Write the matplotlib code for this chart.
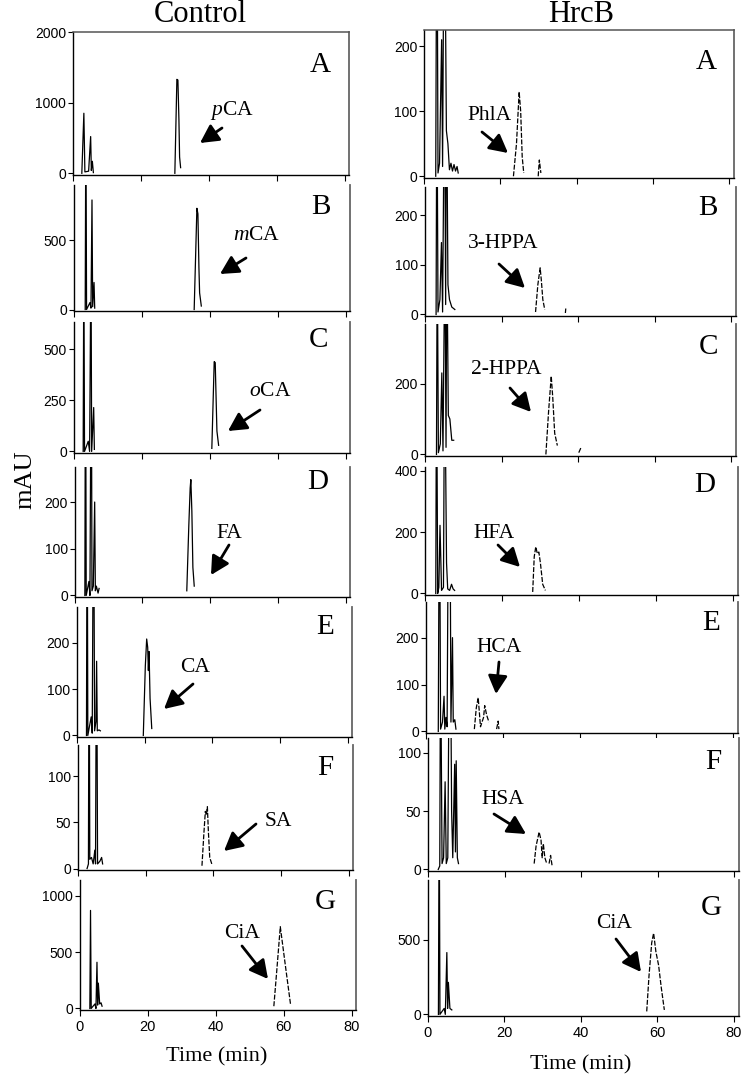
import matplotlib
matplotlib.use("Agg")
import matplotlib.pyplot as plt
from matplotlib.patches import FancyArrowPatch

plt.rcParams["font.family"] = ["Liberation Sans", "DejaVu Sans"]
plt.rcParams["mathtext.fontset"] = "custom"
plt.rcParams["mathtext.rm"] = "Liberation Serif"
plt.rcParams["mathtext.it"] = "Liberation Serif:italic"

SERIF = ["Liberation Serif", "DejaVu Serif"]
PANELS = ["A", "B", "C", "D", "E", "F", "G"]

# ---- Control traces (time min, mAU) ----
ctrl_a_early = [(2.6, 0), (3.2, 850), (3.5, 20), (4.6, 30), (5.2, 520), (5.4, 40), (5.7, 170), (6.0, 10)]
ctrl_a_peak = [(30.0, 0), (30.6, 1330), (30.9, 1320), (31.2, 760), (31.4, 230), (31.7, 80)]
ctrl_b_early = [(3.3, 0), (3.5, 1500), (3.7, 0), (4.7, 50), (5.0, 10), (5.3, 790), (5.5, 20), (5.9, 195), (6.1, 10)]
ctrl_b_peak = [(35.4, 0), (36.2, 730), (36.5, 690), (36.8, 300), (37.0, 120), (37.5, 25)]
ctrl_c_early = [(2.7, 0), (2.9, 1000), (3.1, 0), (4.2, 50), (4.6, 0), (5.0, 1000), (5.2, 0), (5.8, 215), (6.0, 10)]
ctrl_c_peak = [(40.6, 15), (41.3, 440), (41.6, 435), (41.8, 300), (42.1, 100), (42.6, 30)]
ctrl_d_early = [(3.0, 0), (3.2, 600), (3.4, 0), (4.2, 30), (4.5, 0), (4.9, 600), (5.1, 10), (5.5, 20),
                (5.9, 200), (6.1, 10), (6.4, 20), (6.9, 5), (7.2, 15)]
ctrl_d_peak = [(33.1, 10), (33.7, 150), (34.1, 230), (34.3, 248), (34.6, 180), (34.9, 60), (35.3, 20)]
ctrl_e_early = [(2.8, 0), (3.0, 600), (3.2, 0), (4.2, 40), (4.5, 5), (4.9, 600), (5.2, 10), (5.6, 30),
                (5.8, 160), (6.0, 10), (6.5, 12), (6.9, 10)]
ctrl_e_peak = [(19.6, 0), (20.2, 150), (20.6, 208), (20.9, 190), (21.1, 140), (21.3, 181), (21.6, 80), (22.1, 15)]
ctrl_f_early = [(2.6, 0), (3.0, 5), (3.2, 300), (3.4, 10), (3.9, 12), (4.4, 5), (4.9, 20), (5.1, 5),
                (5.4, 300), (5.7, 5), (6.4, 8), (6.9, 12), (7.2, 5)]
ctrl_f_peak = [(36.6, 3), (37.2, 40), (37.6, 62), (37.9, 58), (38.2, 67), (38.5, 40), (38.9, 12), (39.5, 5)]
ctrl_g_early = [(2.9, 0), (3.1, 870), (3.3, 0), (4.4, 40), (4.7, 0), (5.0, 410), (5.2, 30), (5.4, 225),
                (5.8, 40), (6.2, 50), (6.5, 20)]
ctrl_g_peak = [(57.1, 20), (58.0, 350), (59.0, 725), (60.5, 380), (62.0, 40)]

# ---- HrcB traces ----
hrcb_a_early = [(3.0, 0), (3.3, 500), (3.6, 5), (4.0, 20), (4.55, 210), (4.8, 15), (5.25, 500), (5.8, 70),
                (6.2, 50), (6.6, 10), (7.0, 20), (7.4, 8), (7.8, 18), (8.2, 8), (8.6, 15), (8.9, 5)]
hrcb_a_peak = [(23.4, 0), (24.2, 50), (24.9, 130), (25.3, 100), (25.7, 30), (26.1, 5)]
hrcb_a_minor = [(29.9, 0), (30.2, 25), (30.6, 5)]
hrcb_b_early = [(2.9, 0), (3.1, 500), (3.4, 5), (3.9, 30), (4.3, 145), (4.6, 5), (5.1, 500), (5.4, 20),
                (5.6, 500), (6.0, 60), (6.4, 30), (7.0, 15), (7.8, 10)]
hrcb_b_peak = [(28.9, 5), (29.5, 60), (30.1, 94), (30.4, 70), (30.8, 30), (31.3, 10)]
hrcb_b_minor = [(36.7, 3), (36.8, 12)]
hrcb_c_early = [(3.0, 0), (3.2, 600), (3.5, 5), (4.0, 30), (4.4, 230), (4.7, 10), (5.2, 600), (5.5, 20),
                (5.7, 600), (6.1, 110), (6.5, 100), (7.0, 40), (7.5, 40)]
hrcb_c_peak = [(31.6, 0), (32.3, 120), (33.0, 221), (33.4, 160), (33.9, 60), (34.6, 25)]
hrcb_c_minor = [(40.2, 5), (40.8, 20)]
hrcb_d_early = [(2.8, 0), (3.0, 800), (3.3, 0), (3.6, 20), (3.9, 222), (4.3, 10), (4.8, 20), (5.1, 800),
                (5.6, 100), (5.9, 15), (6.4, 10), (6.9, 30), (7.3, 15), (7.7, 10)]
hrcb_d_peak = [(28.0, 5), (28.4, 120), (28.8, 152), (29.2, 130), (29.6, 135), (30.0, 100), (30.6, 30), (31.3, 10)]
hrcb_d_minor = []
hrcb_e_early = [(3.2, 0), (3.5, 600), (3.8, 5), (4.3, 20), (4.7, 75), (4.9, 5), (5.2, 30), (5.5, 10),
                (5.9, 600), (6.2, 600), (6.5, 20), (6.9, 200), (7.1, 20), (7.5, 25), (7.8, 5)]
hrcb_e_peak = [(12.6, 5), (13.1, 50), (13.6, 72), (14.2, 10), (15.0, 30), (15.3, 55), (15.8, 35), (16.4, 20)]
hrcb_e_minor = [(18.4, 5), (18.8, 22), (19.0, 5)]
hrcb_f_early = [(2.6, 0), (3.0, 3), (3.2, 200), (3.6, 5), (4.0, 10), (4.4, 75), (4.7, 5), (5.1, 10),
                (5.5, 200), (5.8, 200), (6.1, 50), (6.4, 10), (6.9, 90), (7.1, 15), (7.3, 93), (7.6, 10), (7.9, 5)]
hrcb_f_peak = [(27.7, 5), (28.2, 20), (29.0, 32), (29.5, 25), (29.8, 10), (30.1, 22), (30.5, 10), (31.0, 5)]
hrcb_f_minor = [(31.6, 5), (32.0, 12), (32.4, 3)]
hrcb_g_early = [(2.8, 0), (3.0, 1500), (3.2, 0), (4.3, 40), (4.6, 0), (5.0, 415), (5.2, 40), (5.4, 215),
                (5.8, 40), (6.3, 30)]
hrcb_g_peak = [(57.2, 20), (57.8, 260), (58.5, 480), (59.0, 545), (59.6, 420), (60.3, 330), (61.0, 180), (61.8, 30)]
hrcb_g_minor = []

CTRL_YMAX = [2000, 898, 634, 275, 277, 134, 1140]
HRCB_YMAX = [225, 257, 368, 412, 276, 112.5, 902]
CTRL_YTICKS = [[0, 1000, 2000], [0, 500], [0, 250, 500], [0, 100, 200], [0, 100, 200], [0, 50, 100], [0, 500, 1000]]
HRCB_YTICKS = [[0, 100, 200], [0, 100, 200], [0, 200], [0, 200, 400], [0, 100, 200], [0, 50, 100], [0, 500]]
XTICKS = [0, 20, 40, 60, 80]
CTRL_LABELS = [r"$\it{p}$CA", r"$\it{m}$CA", r"$\it{o}$CA", "FA", "CA", "SA", "CiA"]
HRCB_LABELS = ["PhlA", "3-HPPA", "2-HPPA", "HFA", "HCA", "HSA", "CiA"]

# ---- layout in pixels ----
W, H = 742, 1078
CTRL_BOX = [(73, 349, 32, 175), (74, 350, 185, 311), (74, 350, 322, 453), (74.7, 350, 467, 597),
            (77, 352, 607, 737), (78.3, 353, 745, 870), (80, 356, 880, 1010)]
HRCB_BOX = [(424.3, 734, 30, 178), (425, 736, 187, 316), (425, 736, 324, 456), (425, 737.7, 467, 595),
            (426, 738, 602, 733), (428.3, 739, 738, 871), (427.7, 739, 880, 1016)]
CTRL_LETTER = [(320, 65), (321, 207), (318, 340), (318, 482), (325, 627), (325, 768), (325, 902)]
HRCB_LETTER = [(706, 62), (708, 208), (708, 347), (705, 485), (711, 623), (713, 762), (711, 908)]
CTRL_TXT = [(232, 110), (257, 236), (270, 392), (229, 533), (195, 668), (278, 822), (242, 933)]
HRCB_TXT = [(489, 115), (503, 244), (506, 369), (494, 533), (499, 647), (503, 800), (614, 923)]
CTRL_ARROW = [((222, 128), (200, 143)), ((246, 258), (220, 274)), ((260, 410), (228, 431)),
              ((229, 545), (211, 575)), ((193, 684), (164, 709)), ((256, 824), (224, 851)),
              ((242, 946), (268, 979))]
HRCB_ARROW = [((482, 132), (508, 153)), ((499, 264), (525, 288)), ((510, 388), (531, 412)),
              ((498, 545), (520, 567)), ((499, 662), (496, 694)), ((494, 814), (526, 834)),
              ((616, 939), (641, 972))]
XMAX = 81.3


def fpx(x, y):
    return (x / W, 1 - y / H)


def draw_trace(ax, pts, dashed):
    if not pts:
        return
    t, y = zip(*pts)
    if dashed:
        ax.plot(t, y, color="black", lw=0.9, dashes=(4, 1.3))
    else:
        ax.plot(t, y, color="black", lw=0.9)


def make_panel(fig, i, boxpx, ymax, yticks, early, peak, minor, dashed):
    x0, x1, top, bot = boxpx
    ax = fig.add_axes([x0 / W, 1 - bot / H, (x1 - x0) / W, (bot - top) / H])
    draw_trace(ax, early, False)
    draw_trace(ax, peak, dashed)
    draw_trace(ax, minor, True)
    ax.set_xlim(0, XMAX)
    ax.set_ylim(-0.012 * ymax, ymax)
    ax.set_yticks(yticks)
    ax.set_xticks(XTICKS)
    ax.tick_params(axis="y", direction="out", length=3.5, width=0.8, labelsize=10, pad=1.5)
    ax.tick_params(axis="x", direction="out", length=4.5, width=0.8, labelsize=10.5, pad=3)
    if i < 6:
        ax.set_xticklabels([])
    for s in ("left", "bottom"):
        ax.spines[s].set_linewidth(1.0)
    ax.spines["right"].set_color("#666666")
    ax.spines["right"].set_linewidth(1.3)
    if i == 0:
        ax.spines["top"].set_color("#555555")
        ax.spines["top"].set_linewidth(1.1)
    else:
        ax.spines["top"].set_visible(False)
    return ax


fig = plt.figure(figsize=(7.42, 10.78), dpi=100)

ctrl_early = [ctrl_a_early, ctrl_b_early, ctrl_c_early, ctrl_d_early, ctrl_e_early, ctrl_f_early, ctrl_g_early]
ctrl_peak = [ctrl_a_peak, ctrl_b_peak, ctrl_c_peak, ctrl_d_peak, ctrl_e_peak, ctrl_f_peak, ctrl_g_peak]
hrcb_early = [hrcb_a_early, hrcb_b_early, hrcb_c_early, hrcb_d_early, hrcb_e_early, hrcb_f_early, hrcb_g_early]
hrcb_peak = [hrcb_a_peak, hrcb_b_peak, hrcb_c_peak, hrcb_d_peak, hrcb_e_peak, hrcb_f_peak, hrcb_g_peak]
hrcb_minor = [hrcb_a_minor, hrcb_b_minor, hrcb_c_minor, hrcb_d_minor, hrcb_e_minor, hrcb_f_minor, hrcb_g_minor]

for i in range(7):
    make_panel(fig, i, CTRL_BOX[i], CTRL_YMAX[i], CTRL_YTICKS[i], ctrl_early[i], ctrl_peak[i], [], i >= 5)
    make_panel(fig, i, HRCB_BOX[i], HRCB_YMAX[i], HRCB_YTICKS[i], hrcb_early[i], hrcb_peak[i], hrcb_minor[i], True)

    for letter_pos, txt_pos, label, arrow in (
        (CTRL_LETTER[i], CTRL_TXT[i], CTRL_LABELS[i], CTRL_ARROW[i]),
        (HRCB_LETTER[i], HRCB_TXT[i], HRCB_LABELS[i], HRCB_ARROW[i]),
    ):
        fig.text(*fpx(*letter_pos), PANELS[i], family=SERIF, fontsize=21, ha="center", va="center")
        fig.text(*fpx(*txt_pos), label, family=SERIF, fontsize=15.5, ha="center", va="center")
        fig.add_artist(FancyArrowPatch(
            fpx(*arrow[0]), fpx(*arrow[1]), transform=fig.transFigure,
            arrowstyle="-|>,head_length=0.85,head_width=0.45", mutation_scale=13,
            shrinkA=0, shrinkB=0, lw=2.0, color="black"))

fig.text(*fpx(200, 14), "Control", family=SERIF, fontsize=22, ha="center", va="center")
fig.text(*fpx(581, 14), "HrcB", family=SERIF, fontsize=22, ha="center", va="center")
fig.text(*fpx(25, 480), "mAU", family=SERIF, fontsize=19, ha="center", va="center", rotation=90)
fig.text(*fpx(217, 1057), "Time (min)", family=SERIF, fontsize=16, ha="center", va="center")
fig.text(*fpx(581, 1065), "Time (min)", family=SERIF, fontsize=16, ha="center", va="center")

fig.savefig("out.png", dpi=100)
